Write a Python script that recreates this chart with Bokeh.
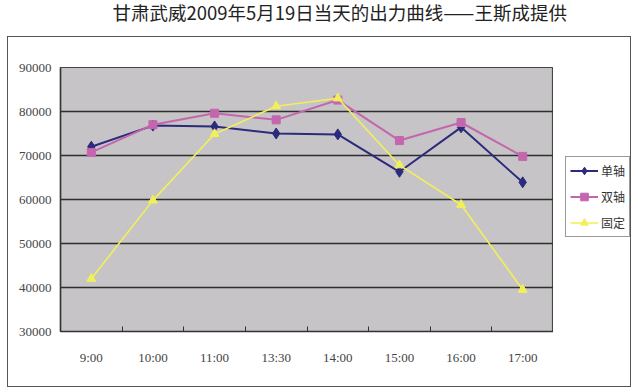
from bokeh.plotting import figure
from bokeh.layouts import row, column
from bokeh.models import FixedTicker, Legend, LegendItem, Title, InlineStyleSheet
from bokeh.embed import file_html
from bokeh.resources import INLINE

# ---- data ----
categories = ["9:00", "10:00", "11:00", "13:30", "14:00", "15:00", "16:00", "17:00"]
single_axis = [72000, 76800, 76600, 75000, 74800, 66300, 76400, 63900]   # 单轴
double_axis = [70700, 77000, 79600, 78100, 82600, 73400, 77500, 69800]   # 双轴
fixed_mount = [42000, 59800, 74900, 81200, 83000, 67800, 58800, 39500]   # 固定
series_names = ["单轴", "双轴", "固定"]
y_ticks = [30000, 40000, 50000, 60000, 70000, 80000, 90000]
title_text = "甘肃武威2009年5月19日当天的出力曲线——王斯成提供"

colors = ["#2b2a7c", "#c466ae", "#f2f05a"]
markers = ["diamond", "square", "triangle"]
msizes = [11, 8, 9]
lwidths = [2, 2, 1.6]
series = [single_axis, double_axis, fixed_mount]

n = len(categories)
xs = [i + 0.5 for i in range(n)]
bounds = list(range(n + 1))

# ---- title strip ----
t = figure(width=636, height=30, output_backend="svg", toolbar_location=None,
           min_border=0, border_fill_color=None, background_fill_color=None,
           outline_line_color=None)
t.axis.visible = False
t.grid.visible = False
t.title = Title(text=title_text, text_font="Noto Sans CJK SC", text_font_size="18.5px",
                text_font_style="normal", text_color="#222222", align="left",
                offset=112, standoff=8, vertical_align="top")

# ---- main plot ----
p = figure(width=553, height=360, output_backend="svg", toolbar_location=None,
           x_range=(0, n), y_range=(y_ticks[0], y_ticks[-1]),
           min_border_left=60, min_border_right=0, min_border_top=37, min_border_bottom=59,
           background_fill_color="#c6c4c6", border_fill_color=None)

p.xaxis.ticker = FixedTicker(ticks=xs, minor_ticks=bounds)
p.xaxis.major_label_overrides = {x: c for x, c in zip(xs, categories)}
p.xaxis.major_tick_in = 0
p.xaxis.major_tick_out = 0
p.xaxis.minor_tick_in = 5
p.xaxis.minor_tick_out = 0
p.xaxis.minor_tick_line_color = "#333333"
p.xaxis.major_label_standoff = 18
p.yaxis.ticker = FixedTicker(ticks=y_ticks)
p.yaxis.major_tick_in = 0
p.yaxis.major_tick_out = 0
p.yaxis.minor_tick_line_color = None
p.yaxis.major_label_standoff = 9
for ax in (p.xaxis, p.yaxis):
    ax.axis_line_color = "#333333"
    ax.axis_line_width = 1.5
    ax.major_label_text_font = "Liberation Serif"
    ax.major_label_text_font_size = "13px"
    ax.major_label_text_color = "#444444"

p.xgrid.grid_line_color = None
p.ygrid.ticker = FixedTicker(ticks=y_ticks)
p.ygrid.grid_line_color = "#2e2e2e"
p.ygrid.grid_line_width = 1.3
p.outline_line_color = "#444444"
p.outline_line_width = 1.2

for vals, c, m, ms, lw in zip(series, colors, markers, msizes, lwidths):
    p.line(xs, vals, line_color=c, line_width=lw)
    p.scatter(xs, vals, marker=m, size=ms, fill_color=c, line_color=c)

# ---- legend strip: same series drawn outside its visible range, only legend shows ----
q = figure(width=83, height=360, output_backend="svg", toolbar_location=None,
           x_range=(100, 101), y_range=(0, 1), min_border=0,
           border_fill_color=None, background_fill_color=None, outline_line_color=None)
q.axis.visible = False
q.grid.visible = False
items = []
for name, vals, c, m, ms, lw in zip(series_names, series, colors, markers, msizes, lwidths):
    r1 = q.line(xs, vals, line_color=c, line_width=lw)
    r2 = q.scatter(xs, vals, marker=m, size=ms, fill_color=c, line_color=c)
    items.append(LegendItem(label=name, renderers=[r1, r2]))

legend = Legend(items=items, location=(12, 94), glyph_width=28, glyph_height=19,
                label_height=19, label_standoff=3, spacing=7, padding=4, margin=0,
                label_text_font="Noto Sans CJK SC", label_text_font_size="12px",
                label_text_color="#333333", border_line_color="#333333",
                border_line_width=1, background_fill_color="white")
q.add_layout(legend, "center")

layout = column(t, row(p, q, spacing=0), spacing=0)
# outer chart border (below the title)
layout.stylesheets = [InlineStyleSheet(css=(
    ":host { position: relative; background: white; }"
    ":host::after { content: ''; position: absolute; left: 7px; top: 36px; "
    "width: 622px; height: 349px; border: 1px solid #555555; pointer-events: none; }"))]

open("out.html", "w").write(file_html(layout, INLINE))
